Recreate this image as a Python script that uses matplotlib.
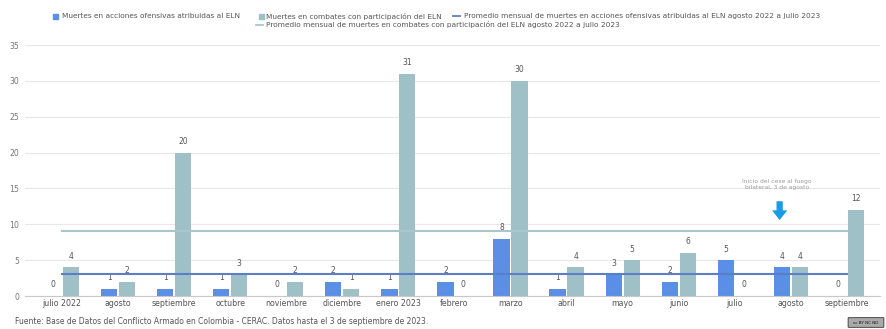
import matplotlib
matplotlib.use("Agg")
import matplotlib.pyplot as plt
from matplotlib.patches import Rectangle, FancyBboxPatch
from matplotlib.lines import Line2D
import numpy as np

plt.rcParams['font.family'] = ['DejaVu Sans']

months = ["julio 2022", "agosto", "septiembre", "octubre", "noviembre", "diciembre",
          "enero 2023", "febrero", "marzo", "abril", "mayo", "junio", "julio",
          "agosto", "septiembre"]
ofensivas = [0, 1, 1, 1, 0, 2, 1, 2, 8, 1, 3, 2, 5, 4, 0]
combates = [4, 2, 20, 3, 2, 1, 31, 0, 30, 4, 5, 6, 0, 4, 12]
prom_ofensivas = 3
prom_combates = 9

legend_labels = [
    "Muertes en acciones ofensivas atribuidas al ELN",
    "Muertes en combates con participación del ELN",
    "Promedio mensual de muertes en acciones ofensivas atribuidas al ELN agosto 2022 a julio 2023",
    "Promedio mensual de muertes en combates con participación del ELN agosto 2022 a julio 2023",
]
annotation_text = "Inicio del cese al fuego\nbilateral, 3 de agosto"
source_text = "Fuente: Base de Datos del Conflicto Armado en Colombia - CERAC. Datos hasta el 3 de septiembre de 2023."

c_blue = "#5b8fe6"
c_grey = "#9fc0c6"
c_line_blue = "#5a7fc8"
c_line_grey = "#a9c6cd"
c_text = "#555555"

W, H = 886, 329
fig = plt.figure(figsize=(W / 100, H / 100), dpi=100)
left, right, bottom, top = 25, 880, 296, 45
ax = fig.add_axes([left / W, 1 - bottom / H, (right - left) / W, (bottom - top) / H])

x = np.arange(len(months))
bw = 0.29
off = 0.16
ax.bar(x - off, ofensivas, width=bw, color=c_blue, zorder=2)
ax.bar(x + off, combates, width=bw, color=c_grey, zorder=2)

for xi, v in zip(x - off, ofensivas):
    ax.annotate(str(v), (xi, v), xytext=(0, 8), textcoords="offset points",
                ha="center", va="center", fontsize=5.5, color=c_text, zorder=3)
for xi, v in zip(x + off, combates):
    ax.annotate(str(v), (xi, v), xytext=(0, 8), textcoords="offset points",
                ha="center", va="center", fontsize=5.5, color=c_text, zorder=3)

ax.plot(x, [prom_ofensivas] * len(x), color=c_line_blue, lw=1.5, zorder=4)
ax.plot(x, [prom_combates] * len(x), color=c_line_grey, lw=1.5, zorder=4)

ax.set_xlim(-0.66, 14.59)
ax.set_ylim(0, 35)
ax.set_yticks(np.arange(0, 36, 5))
ax.set_xticks(x)
ax.set_xticklabels(months)
ax.tick_params(axis="x", length=0, pad=2, labelsize=5.7, labelcolor=c_text)
ax.tick_params(axis="y", length=0, pad=4, labelsize=5.6, labelcolor="#777777")
ax.grid(axis="y", color="#e8e8e8", lw=0.8, zorder=0)
ax.set_axisbelow(True)
for s in ["top", "right", "left"]:
    ax.spines[s].set_visible(False)
ax.spines["bottom"].set_color("#c8c8c8")
ax.spines["bottom"].set_linewidth(0.8)

# annotation
ax.text(12.75, 15.5, annotation_text, ha="center", va="center", fontsize=4.3,
        color="#9a9a9a", linespacing=1.3)
ax.annotate("", xy=(12.8, 10.2), xytext=(12.8, 13.6),
            arrowprops=dict(arrowstyle="simple,head_width=1.1,head_length=0.7,tail_width=0.45",
                            color="#1a9be3", lw=0))

# legend (manual, figure pixel coords)
def fx(px):
    return px / W

def fy(py):
    return 1 - py / H

lfs = 5.35
fig.add_artist(Rectangle((fx(53), fy(19)), 5 / W, 5 / H, color=c_blue, transform=fig.transFigure))
fig.text(fx(62), fy(16), legend_labels[0], fontsize=lfs, color=c_text, va="center")
fig.add_artist(Rectangle((fx(259), fy(19)), 5 / W, 5 / H, color=c_grey, transform=fig.transFigure))
fig.text(fx(266), fy(16), legend_labels[1], fontsize=lfs, color=c_text, va="center")
fig.add_artist(Line2D([fx(453), fx(460)], [fy(16), fy(16)], color=c_line_blue, lw=1.3,
                      transform=fig.transFigure))
fig.text(fx(464), fy(16), legend_labels[2], fontsize=lfs, color=c_text, va="center")
fig.add_artist(Line2D([fx(256), fx(263)], [fy(25), fy(25)], color=c_line_grey, lw=1.3,
                      transform=fig.transFigure))
fig.text(fx(266), fy(25), legend_labels[3], fontsize=lfs, color=c_text, va="center")

# source
fig.text(fx(15), fy(322), source_text, fontsize=5.5, color=c_text, va="center")

# cc badge
fig.add_artist(FancyBboxPatch((fx(849), fy(327)), 34 / W, 9 / H,
                              boxstyle="round,pad=0.001", fc="#aaaaaa", ec="#333333", lw=0.6,
                              transform=fig.transFigure))
fig.text(fx(866), fy(322.5), "cc BY NC ND", fontsize=3, color="#111111", ha="center", va="center")

fig.savefig("out.png", dpi=100)
